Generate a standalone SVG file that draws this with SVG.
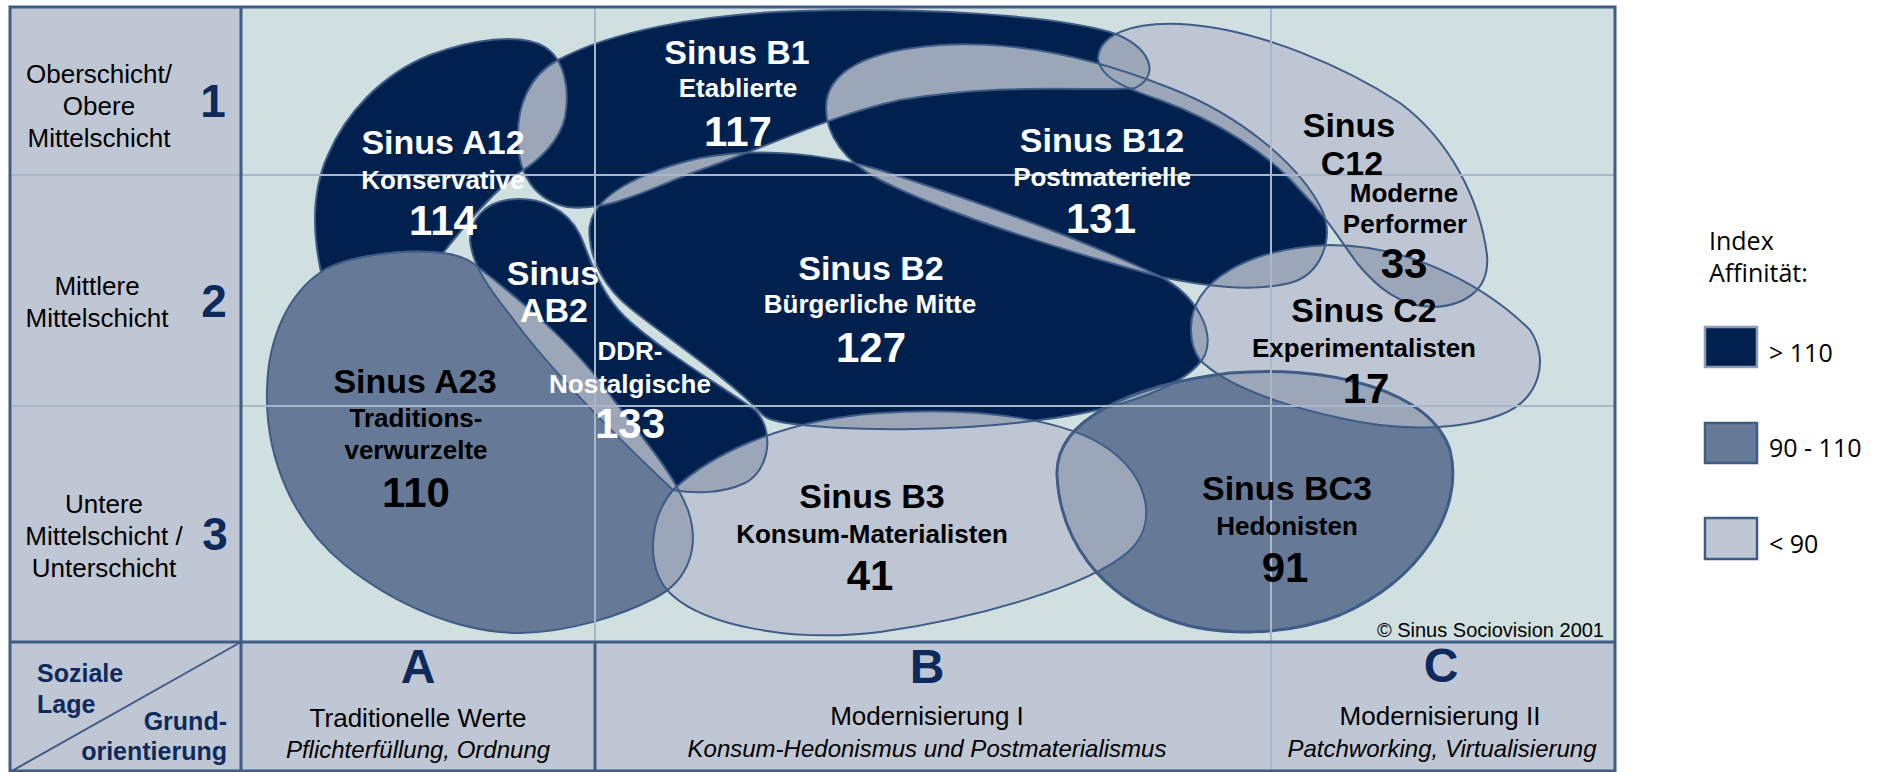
<svg xmlns="http://www.w3.org/2000/svg" width="1889" height="772" viewBox="0 0 1889 772">
<style>
.page{fill:#FFFFFF}
.chartbg{fill:#D0E0E1}
.labbg{fill:#C0C7D4}
.navy{fill:#00214E}
.mid{fill:#667A98}
.lite{fill:#BFC6D3}
.ov{fill:#9BA7B9}
.st{fill:none;stroke:#3F5C87;stroke-width:2}
.st3{fill:none;stroke:#3F5C87;stroke-width:3}
.grid{stroke:#A9B7CA;stroke-width:2;fill:none}
.frame{stroke:#3F5C87;stroke-width:3;fill:none}
text{font-family:"Liberation Sans",Arial,Helvetica,sans-serif}
.nm{font-weight:bold;font-size:34px;text-anchor:middle}
.sub{font-weight:bold;font-size:26px;text-anchor:middle}
.num{font-weight:bold;font-size:42px;text-anchor:middle}
.w{fill:#FFFFFF}
.k{fill:#000000}
.row{font-size:26px;text-anchor:middle;fill:#000}
.rn{font-weight:bold;font-size:46px;text-anchor:middle;fill:#0E2A5C}
.col{font-weight:bold;font-size:48px;text-anchor:middle;fill:#0E2A5C}
.ct{font-size:26px;text-anchor:middle;fill:#000}
.ci{font-size:24px;font-style:italic;text-anchor:middle;fill:#000}
.corner{font-weight:bold;font-size:25px;fill:#0E2A5C}
.leg{font-family:"Open Sans","Noto Sans",sans-serif;font-size:25px;fill:#000}
</style>
<defs>
<path id="pA12" d="M 321,272 C 312,230 312,190 328,155 C 345,115 380,75 430,55 C 470,40 520,32 545,47 C 565,60 570,90 565,117 C 560,140 540,160 520,172 C 495,190 465,225 443,253 C 405,248 345,256 321,272 Z"/>
<path id="pA23" d="M 321,272 C 345,256 405,248 443,253 C 460,255 470,260 478,267 C 520,300 575,345 610,395 C 640,435 672,470 688,510 C 700,545 690,580 655,598 C 620,616 570,632 520,633 C 460,633 395,605 345,565 C 295,525 265,460 267,390 C 268,335 290,293 321,272 Z"/>
<path id="pAB2" d="M 507,200 C 540,195 568,210 580,235 C 592,262 598,290 625,317 C 660,350 720,385 755,410 C 775,430 770,470 745,483 C 720,495 690,493 673,490 C 620,440 550,370 510,315 C 490,290 472,265 470,240 C 470,220 485,203 507,200 Z"/>
<path id="pB1" d="M 518,143 C 516,105 530,75 558,60 C 610,32 700,14 800,11 C 920,7 1050,15 1110,32 C 1150,45 1162,75 1135,88 C 1100,92 1000,82 900,100 C 830,115 760,150 700,170 C 650,188 610,212 567,207 C 535,200 519,175 518,143 Z"/>
<path id="pB12" d="M 826,108 C 826,70 870,50 940,45 C 1020,40 1100,60 1170,88 C 1240,115 1300,165 1322,210 C 1335,240 1320,275 1290,283 C 1250,293 1200,285 1161,277 C 1080,255 960,220 880,180 C 845,162 826,135 826,108 Z"/>
<path id="pB2" d="M 590,225 C 595,195 640,172 700,158 C 760,146 830,155 880,170 C 960,196 1080,238 1161,277 C 1195,295 1215,330 1205,355 C 1190,385 1120,410 1040,420 C 970,430 860,433 786,423 C 770,420 765,418 761,413 C 730,380 670,340 630,308 C 605,288 592,262 590,240 C 589,232 589,228 590,225 Z"/>
<path id="pB3" d="M 673,490 C 710,455 780,420 880,413 C 980,406 1070,420 1110,450 C 1150,480 1158,525 1128,552 C 1090,585 980,618 880,632 C 790,643 705,625 672,595 C 645,570 648,520 673,490 Z"/>
<path id="pC12" d="M 1098,58 C 1100,35 1130,22 1180,24 C 1260,28 1350,70 1400,103 C 1450,140 1480,200 1487,255 C 1490,290 1465,305 1435,307 C 1400,308 1375,285 1357,263 C 1340,240 1325,215 1300,190 C 1270,155 1220,122 1160,100 C 1125,88 1100,78 1098,58 Z"/>
<path id="pC2" d="M 1191,330 C 1190,280 1250,248 1330,245 C 1420,245 1495,295 1530,330 C 1550,360 1540,400 1500,415 C 1460,430 1400,432 1340,418 C 1280,405 1225,385 1200,360 C 1193,350 1191,340 1191,330 Z"/>
<path id="pBC3" d="M 1057,475 C 1055,420 1130,385 1230,373 C 1330,365 1430,390 1450,450 C 1465,510 1420,580 1340,615 C 1290,635 1220,638 1170,620 C 1100,595 1060,540 1057,475 Z"/>
<clipPath id="cA12"><use href="#pA12"/></clipPath>
<clipPath id="cA23"><use href="#pA23"/></clipPath>
<clipPath id="cAB2"><use href="#pAB2"/></clipPath>
<clipPath id="cB1"><use href="#pB1"/></clipPath>
<clipPath id="cB12"><use href="#pB12"/></clipPath>
<clipPath id="cB2"><use href="#pB2"/></clipPath>
<clipPath id="cB3"><use href="#pB3"/></clipPath>
<clipPath id="cC12"><use href="#pC12"/></clipPath>
<clipPath id="cC2"><use href="#pC2"/></clipPath>
<clipPath id="cBC3"><use href="#pBC3"/></clipPath>
</defs>

<rect class="page" x="0" y="0" width="1889" height="772"/>
<g id="table-background">
<rect class="labbg" x="10" y="7" width="231" height="765"/>
<rect class="labbg" x="241" y="642" width="1374" height="130"/>
<rect class="chartbg" x="241" y="7" width="1374" height="635"/>
</g>

<g id="segments">
<g id="seg-A12"><use href="#pA12" class="navy"/></g>
<g id="seg-A23"><use href="#pA23" class="mid"/></g>
<g id="seg-AB2"><use href="#pAB2" class="navy"/></g>
<g id="seg-B1"><use href="#pB1" class="navy"/></g>
<g id="seg-B12"><use href="#pB12" class="navy"/></g>
<g id="seg-B2"><use href="#pB2" class="navy"/></g>
<g id="seg-B3"><use href="#pB3" class="lite"/></g>
<g id="seg-C12"><use href="#pC12" class="lite"/></g>
<g id="seg-C2"><use href="#pC2" class="lite"/></g>
<g id="seg-BC3"><use href="#pBC3" class="mid"/></g>
</g>

<g id="overlaps">
<use href="#pA12" clip-path="url(#cB1)" class="ov"/>
<use href="#pB1" clip-path="url(#cB2)" class="ov"/>
<use href="#pB1" clip-path="url(#cB12)" class="ov"/>
<use href="#pB1" clip-path="url(#cC12)" class="ov"/>
<use href="#pB12" clip-path="url(#cC12)" class="ov"/>
<use href="#pB12" clip-path="url(#cB2)" class="ov"/>
<use href="#pB12" clip-path="url(#cC2)" class="ov"/>
<use href="#pAB2" clip-path="url(#cA23)" class="ov"/>
<use href="#pAB2" clip-path="url(#cB2)" class="ov"/>
<use href="#pAB2" clip-path="url(#cB3)" class="ov"/>
<use href="#pA23" clip-path="url(#cB3)" class="ov"/>
<use href="#pB2" clip-path="url(#cB3)" class="ov"/>
<use href="#pB2" clip-path="url(#cC2)" class="ov"/>
<use href="#pB2" clip-path="url(#cBC3)" class="ov"/>
<use href="#pB3" clip-path="url(#cBC3)" class="ov"/>
<use href="#pC2" clip-path="url(#cBC3)" class="ov"/>
<use href="#pC2" clip-path="url(#cC12)" class="ov"/>
</g>

<g id="outlines">
<use href="#pA12" class="st"/>
<use href="#pA23" class="st"/>
<use href="#pAB2" class="st"/>
<use href="#pB1" class="st"/>
<use href="#pB12" class="st"/>
<use href="#pB2" class="st"/>
<use href="#pB3" class="st"/>
<use href="#pC12" class="st"/>
<use href="#pC2" class="st"/>
<use href="#pBC3" class="st3"/>
</g>

<g id="grid">
<line class="grid" x1="12" y1="175" x2="1614" y2="175"/>
<line class="grid" x1="12" y1="406" x2="1614" y2="406"/>
<line class="grid" x1="595" y1="8" x2="595" y2="642"/>
<line class="grid" x1="1271" y1="8" x2="1271" y2="771"/>
</g>

<g id="frame">
<rect class="frame" x="10" y="7" width="1605" height="764"/>
<line class="frame" x1="241" y1="7" x2="241" y2="771"/>
<line class="frame" x1="10" y1="642" x2="1615" y2="642"/>
<line class="frame" x1="595" y1="642" x2="595" y2="771"/>
<line stroke="#3F5C87" stroke-width="2" x1="10" y1="772" x2="241" y2="642"/>
</g>

<g id="row-labels">
<text class="row" x="99" y="83">Oberschicht/</text>
<text class="row" x="99" y="115">Obere</text>
<text class="row" x="99" y="147">Mittelschicht</text>
<text class="rn" x="213" y="117">1</text>
<text class="row" x="97" y="295">Mittlere</text>
<text class="row" x="97" y="327">Mittelschicht</text>
<text class="rn" x="214" y="317">2</text>
<text class="row" x="104" y="513">Untere</text>
<text class="row" x="104" y="545">Mittelschicht /</text>
<text class="row" x="104" y="577">Unterschicht</text>
<text class="rn" x="215" y="550">3</text>
</g>

<g id="corner-labels">
<text class="corner" x="37" y="682">Soziale</text>
<text class="corner" x="37" y="713">Lage</text>
<text class="corner" x="227" y="730" text-anchor="end">Grund-</text>
<text class="corner" x="227" y="760" text-anchor="end">orientierung</text>
</g>

<g id="column-labels">
<text class="col" x="418" y="683">A</text>
<text class="ct" x="418" y="727">Traditionelle Werte</text>
<text class="ci" x="418" y="758">Pflichterfüllung, Ordnung</text>
<text class="col" x="927" y="683">B</text>
<text class="ct" x="927" y="725">Modernisierung I</text>
<text class="ci" x="927" y="757">Konsum-Hedonismus und Postmaterialismus</text>
<text class="col" x="1441" y="682">C</text>
<text class="ct" x="1440" y="725">Modernisierung II</text>
<text class="ci" x="1442" y="757">Patchworking, Virtualisierung</text>
</g>

<g id="node-A12">
<text class="nm w" x="443" y="154">Sinus A12</text>
<text class="sub w" x="443" y="189">Konservative</text>
<text class="num w" x="443" y="235">114</text>
</g>
<g id="node-B1">
<text class="nm w" x="737" y="64">Sinus B1</text>
<text class="sub w" x="738" y="97">Etablierte</text>
<text class="num w" x="738" y="146">117</text>
</g>
<g id="node-B12">
<text class="nm w" x="1102" y="152">Sinus B12</text>
<text class="sub w" x="1102" y="186">Postmaterielle</text>
<text class="num w" x="1101" y="233">131</text>
</g>
<g id="node-B2">
<text class="nm w" x="871" y="280">Sinus B2</text>
<text class="sub w" x="870" y="313">Bürgerliche Mitte</text>
<text class="num w" x="871" y="362">127</text>
</g>
<g id="node-AB2">
<text class="nm w" x="553" y="285">Sinus</text>
<text class="nm w" x="554" y="322">AB2</text>
<text class="sub w" x="630" y="360">DDR-</text>
<text class="sub w" x="630" y="393">Nostalgische</text>
<text class="num w" x="630" y="438">133</text>
</g>
<g id="node-A23">
<text class="nm k" x="415" y="393">Sinus A23</text>
<text class="sub k" x="416" y="427">Traditions-</text>
<text class="sub k" x="416" y="459">verwurzelte</text>
<text class="num k" x="416" y="507">110</text>
</g>
<g id="node-C12">
<text class="nm k" x="1349" y="137">Sinus</text>
<text class="nm k" x="1352" y="175">C12</text>
<text class="sub k" x="1404" y="202">Moderne</text>
<text class="sub k" x="1405" y="233">Performer</text>
<text class="num k" x="1404" y="278">33</text>
</g>
<g id="node-C2">
<text class="nm k" x="1364" y="322">Sinus C2</text>
<text class="sub k" x="1364" y="357">Experimentalisten</text>
<text class="num k" x="1366" y="403">17</text>
</g>
<g id="node-BC3">
<text class="nm k" x="1287" y="500">Sinus BC3</text>
<text class="sub k" x="1287" y="535">Hedonisten</text>
<text class="num k" x="1285" y="582">91</text>
</g>
<g id="node-B3">
<text class="nm k" x="872" y="508">Sinus B3</text>
<text class="sub k" x="872" y="543">Konsum-Materialisten</text>
<text class="num k" x="870" y="590">41</text>
</g>

<text x="1604" y="637" font-size="20" text-anchor="end" fill="#000">© Sinus Sociovision 2001</text>

<g id="legend">
<text class="leg" x="1709" y="250">Index</text>
<text class="leg" x="1709" y="282">Affinität:</text>
<rect x="1705" y="327" width="52" height="40" fill="#00214E" stroke="#8C9DB5" stroke-width="2.5"/>
<text class="leg" x="1769" y="362">&gt; 110</text>
<rect x="1705" y="423" width="52" height="40" fill="#667A98" stroke="#3F5C87" stroke-width="2.5"/>
<text class="leg" x="1769" y="457">90 - 110</text>
<rect x="1705" y="518" width="52" height="41" fill="#C0C7D4" stroke="#3F5C87" stroke-width="2.5"/>
<text class="leg" x="1769" y="553">&lt; 90</text>
</g>
</svg>
